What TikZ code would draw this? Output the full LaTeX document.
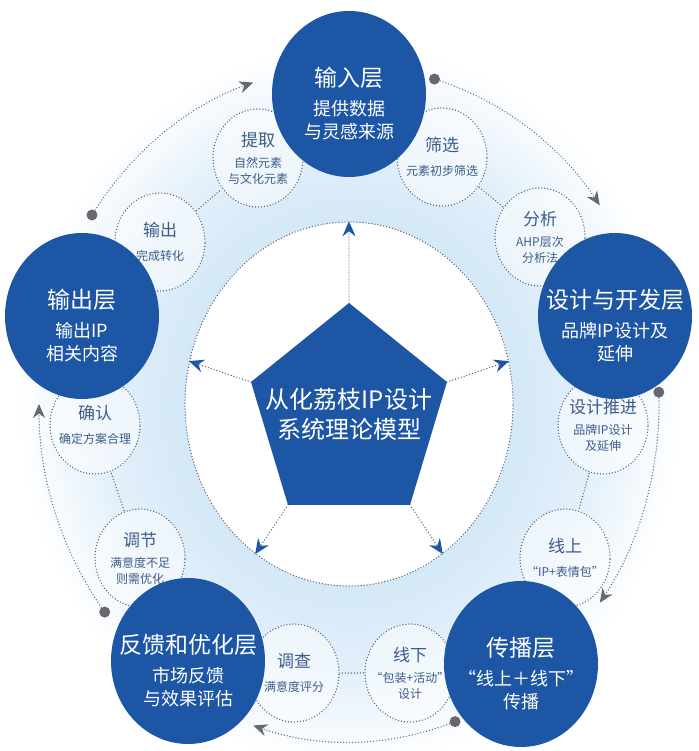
\documentclass[tikz,border=0pt]{standalone}
\usepackage{fontspec}
\setmainfont{Noto Sans CJK SC}
\usetikzlibrary{arrows.meta,shapes.geometric}
\definecolor{deepblue}{RGB}{30,86,166}
\definecolor{glow}{RGB}{212,232,247}
\definecolor{dotgrey}{RGB}{104,104,108}
\definecolor{ringline}{RGB}{80,92,116}
\definecolor{smalltxt}{RGB}{62,92,138}
\pgfdeclareradialshading{glowring}{\pgfpoint{0bp}{0bp}}{color(0bp)=(glow); color(12bp)=(glow); color(18bp)=(glow!65!white); color(24bp)=(white); color(50bp)=(white)}
\newcommand{\layertitle}[1]{\rule{0pt}{38pt}{\fontsize{23}{27}\selectfont #1}}
\newcommand{\stagetitle}[1]{{\fontsize{17}{20}\selectfont #1}}
\tikzset{
  dots/.style={line width=1.4pt, dash pattern=on 0pt off 3pt, line cap=round},
  layer/.style={ellipse, fill=deepblue, text=white, minimum width=154pt, minimum height=166pt,
    inner sep=-16pt, align=center, font=\fontsize{18}{23}\selectfont},
  stage/.style={ellipse, dots, draw=ringline, fill=white, fill opacity=.5, text opacity=1,
    minimum width=90pt, minimum height=98pt, inner sep=-12pt, align=center, text=smalltxt,
    font=\fontsize{12}{16}\selectfont},
  link/.style={dots, ringline, shorten <=1pt, shorten >=1pt},
  spoke/.style={dots, ringline, -{Stealth[length=15pt,width=13pt,inset=5pt,color=deepblue]}},
  cycle arrow/.style={dots, dotgrey, -{Stealth[length=14pt,width=12pt,inset=4.5pt,color=dotgrey]}}
}
\begin{document}
\begin{tikzpicture}[x=1pt,y=1pt]
  \useasboundingbox (0,0) rectangle (698,751);
  \fill[white] (0,0) rectangle (698,751);
  \coordinate (ring) at (349,347);
  \shade[shading=glowring] (ring) ellipse [x radius=345, y radius=375];

  % outer cycle between the layers
  \foreach \k in {0,...,4}{
    \pgfmathsetmacro\sa{74-72*\k}
    \pgfmathsetmacro\ea{36-72*\k}
    \fill[dotgrey] ([shift={(\sa:310 and 338)}]ring) circle (5.5);
    \draw[cycle arrow] ([shift={(\sa:310 and 338)}]ring) arc[start angle=\sa, end angle=\ea, x radius=310, y radius=338];
  }

  \node[ellipse, dots, draw=ringline, fill=white, minimum width=328pt, minimum height=364pt] (core) at (ring) {};

  % pentagon
  \coordinate (p1) at (349,448);
  \coordinate (p2) at (447,369);
  \coordinate (p3) at (410,246);
  \coordinate (p4) at (288,246);
  \coordinate (p5) at (251,369);
  \fill[deepblue] (p1)--(p2)--(p3)--(p4)--(p5)--cycle;
  \node[text=white, align=center, font=\fontsize{24}{30}\selectfont] (model) at (349,337) {从化荔枝IP设计\\系统理论模型};
  \draw[spoke] (p1) -- (core.90);
  \draw[spoke] (p2) -- (core.15);
  \draw[spoke] (p3) -- (core.-58);
  \draw[spoke] (p4) -- (core.-122);
  \draw[spoke] (p5) -- (core.165);

  % small stages
  \node[stage] (tiqu) at (258,593) {\stagetitle{提取}\\[5pt]自然元素\\与文化元素};
  \node[stage] (shaixuan) at (442,594) {\stagetitle{筛选}\\[8pt]元素初步筛选};
  \node[stage] (fenxi) at (540,514) {\stagetitle{分析}\\[5pt]AHP层次\\分析法};
  \node[stage] (tuijin) at (603,326) {\stagetitle{设计推进}\\[5pt]品牌IP设计\\及延伸};
  \node[stage] (xianshang) at (565,193) {\stagetitle{线上}\\[8pt]“IP+表情包”};
  \node[stage] (xianxia) at (410,78) {\stagetitle{线下}\\[5pt]“包装+活动”\\设计};
  \node[stage] (diaocha) at (294,78) {\stagetitle{调查}\\[8pt]满意度评分};
  \node[stage] (tiaojie) at (140,193) {\stagetitle{调节}\\[5pt]满意度不足\\则需优化};
  \node[stage] (queren) at (95,326) {\stagetitle{确认}\\[8pt]确定方案合理};
  \node[stage] (shuchu) at (160,509) {\stagetitle{输出}\\[8pt]完成转化};
  \draw[link] (shuchu) -- (tiqu);
  \draw[link] (shaixuan) -- (fenxi);
  \draw[link] (tuijin) -- (xianshang);
  \draw[link] (xianxia) -- (diaocha);
  \draw[link] (tiaojie) -- (queren);

  % layers
  \node[layer] (input) at (349,657) {\layertitle{输入层}\\[6pt]提供数据\\与灵感来源};
  \node[layer] (design) at (615,435) {\layertitle{设计与开发层}\\[6pt]品牌IP设计及\\延伸};
  \node[layer] (spread) at (521,87) {\layertitle{传播层}\\[6pt]“线上＋线下”\\传播};
  \node[layer] (feedback) at (188,90) {\layertitle{反馈和优化层}\\[6pt]市场反馈\\与效果评估};
  \node[layer] (output) at (82,435) {\layertitle{输出层}\\[6pt]输出IP\\相关内容};
\end{tikzpicture}
\end{document}
